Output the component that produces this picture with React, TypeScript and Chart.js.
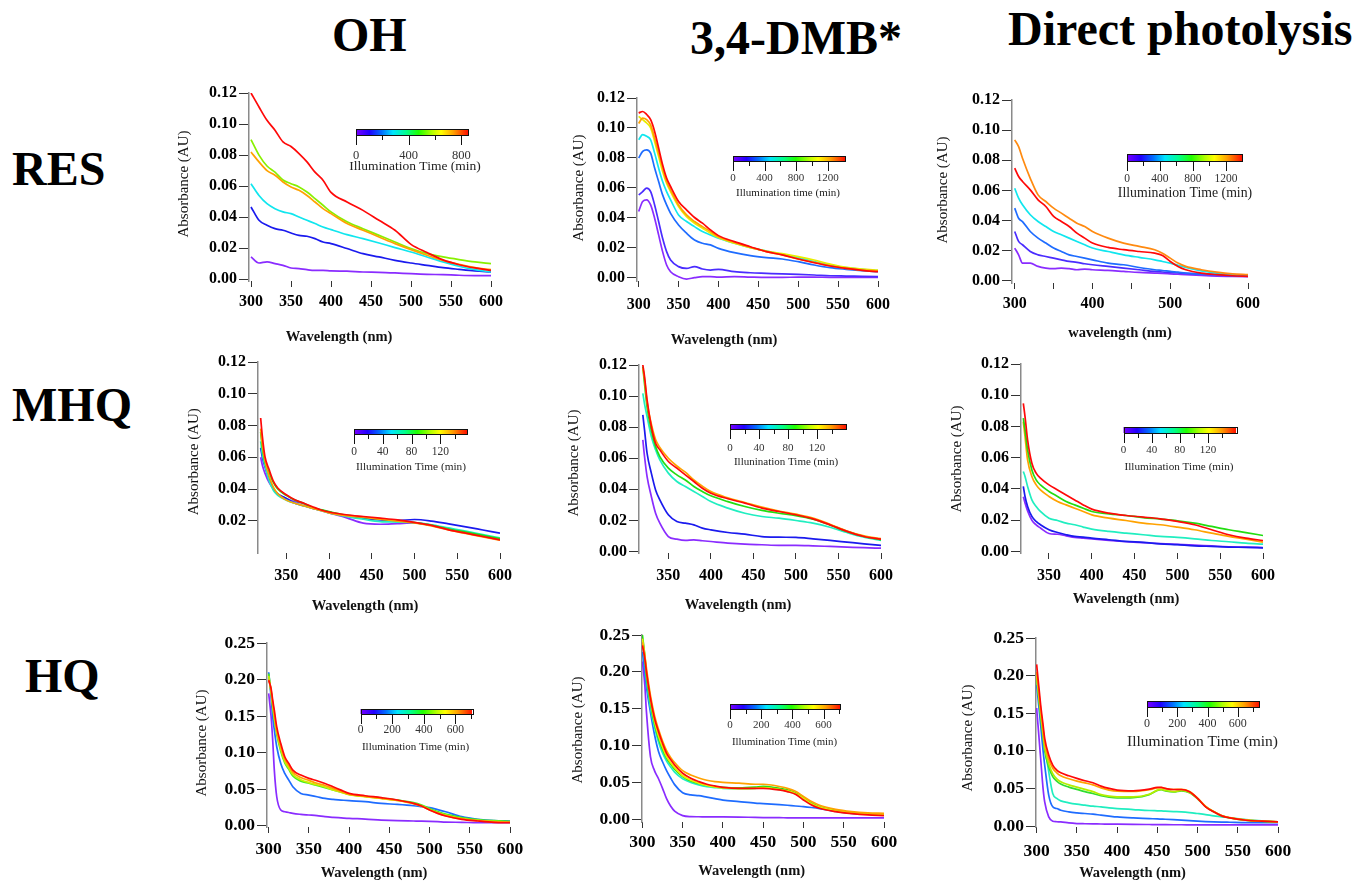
import React, { useEffect, useRef } from 'react';
import { Chart, registerables } from 'chart.js';

Chart.register(...registerables);

const SERIF = '"Liberation Serif", "Times New Roman", Times, serif';

// ---------------- tick labels ----------------
const xTicks300 = [300, 350, 400, 450, 500, 550, 600];
const xLabels300 = [300, 350, 400, 450, 500, 550, 600];
const xLabels300by100 = [300, 400, 500, 600];
const xTicks350 = [350, 400, 450, 500, 550, 600];
const yTicks012 = [0, 0.02, 0.04, 0.06, 0.08, 0.1, 0.12];
const yTicks012NoZero = [0.02, 0.04, 0.06, 0.08, 0.1, 0.12];
const yTicks025 = [0, 0.05, 0.1, 0.15, 0.2, 0.25];

// colour-bar ticks (illumination time, min)
const cbMajor850 = [0, 400, 800];
const cbMinor850 = [200, 600];
const cbMajor1400 = [0, 400, 800, 1200];
const cbMinor1400 = [200, 600, 1000];
const cbMajor160 = [0, 40, 80, 120];
const cbMinor160 = [20, 60, 100, 140];
const cbMajor700 = [0, 200, 400, 600];
const cbMinor700 = [100, 300, 500, 700];

// ---------------- RES / OH ----------------
const resOhWl = [300, 310, 320, 330, 340, 350, 360, 370, 380, 390, 400, 420, 440, 460, 480, 500, 520, 540, 560, 580, 600];
const resOhViolet = [0.0144, 0.0105, 0.0112, 0.0101, 0.009, 0.0073, 0.0069, 0.0062, 0.0058, 0.0058, 0.0054, 0.0052, 0.0047, 0.0045, 0.0041, 0.0036, 0.0032, 0.003, 0.0026, 0.0024, 0.0024];
const resOhBlue = [0.0466, 0.038, 0.0348, 0.0326, 0.0316, 0.0298, 0.0283, 0.0277, 0.0262, 0.024, 0.023, 0.0198, 0.0165, 0.0144, 0.0122, 0.0105, 0.009, 0.0075, 0.0064, 0.0054, 0.0047];
const resOhCyan = [0.0616, 0.054, 0.0487, 0.0455, 0.0434, 0.0423, 0.0401, 0.038, 0.0359, 0.0337, 0.032, 0.0288, 0.0262, 0.0234, 0.0204, 0.0176, 0.0144, 0.0112, 0.0084, 0.0062, 0.0047];
const resOhGreen = [0.09, 0.08, 0.073, 0.069, 0.064, 0.0616, 0.0595, 0.0562, 0.052, 0.0477, 0.0434, 0.037, 0.0326, 0.0283, 0.024, 0.0198, 0.0165, 0.0144, 0.0127, 0.0112, 0.0101];
const resOhOrange = [0.082, 0.0756, 0.07, 0.067, 0.0627, 0.0595, 0.0573, 0.054, 0.0498, 0.0455, 0.0423, 0.0359, 0.0316, 0.0273, 0.023, 0.0191, 0.0155, 0.0122, 0.0097, 0.0075, 0.0062];
const resOhRed = [0.12, 0.111, 0.1024, 0.096, 0.0885, 0.0855, 0.081, 0.0756, 0.069, 0.0638, 0.056, 0.0498, 0.0444, 0.038, 0.0316, 0.0225, 0.0172, 0.0125, 0.0094, 0.0073, 0.0058];

// ---------------- RES / 3,4-DMB* ----------------
const resDmbWl = [300, 305, 310, 315, 320, 325, 330, 335, 340, 350, 360, 370, 380, 390, 400, 420, 440, 460, 480, 500, 520, 540, 560, 580, 600];
const resDmbViolet = [0.0442, 0.0509, 0.052, 0.0486, 0.0397, 0.0286, 0.0174, 0.0085, 0.004, 0.0007, -0.0009, 0, 0.0007, 0.0007, 0.0004, 0.0007, 0.0004, 0.0002, 0.0002, 0.0004, 0.0004, 0.0002, 0.0002, 0.0002, 0.0002];
const resDmbIndigo = [0.0553, 0.0575, 0.0598, 0.0575, 0.0486, 0.0375, 0.0263, 0.0174, 0.0118, 0.0074, 0.0062, 0.0074, 0.0058, 0.0051, 0.0056, 0.004, 0.0033, 0.0029, 0.0025, 0.0022, 0.0018, 0.0013, 0.0011, 0.0009, 0.0007];
const resDmbBlue = [0.0799, 0.0843, 0.0854, 0.0832, 0.0732, 0.0642, 0.0553, 0.0486, 0.043, 0.0352, 0.0297, 0.0252, 0.023, 0.0219, 0.0196, 0.0167, 0.0147, 0.0134, 0.0125, 0.0107, 0.0085, 0.0067, 0.0056, 0.0047, 0.004];
const resDmbCyan = [0.0921, 0.0955, 0.0944, 0.0921, 0.0832, 0.0732, 0.0642, 0.0575, 0.052, 0.0419, 0.0375, 0.0341, 0.0308, 0.0286, 0.0263, 0.023, 0.0201, 0.0178, 0.0156, 0.0134, 0.0107, 0.0085, 0.0067, 0.0056, 0.0047];
const resDmbYellow = [0.1077, 0.1055, 0.1033, 0.1, 0.091, 0.081, 0.0709, 0.0631, 0.0575, 0.0475, 0.0408, 0.0364, 0.033, 0.0297, 0.0268, 0.023, 0.0201, 0.0178, 0.0161, 0.0141, 0.0118, 0.0091, 0.0069, 0.0058, 0.0051];
const resDmbOrange = [0.103, 0.1066, 0.1055, 0.102, 0.0932, 0.0832, 0.0732, 0.0642, 0.0587, 0.0486, 0.0419, 0.0375, 0.0341, 0.0308, 0.0274, 0.0236, 0.0203, 0.0174, 0.0152, 0.0125, 0.0103, 0.008, 0.0062, 0.0051, 0.0045];
const resDmbRed = [0.11, 0.111, 0.109, 0.1055, 0.0977, 0.0866, 0.0754, 0.0665, 0.0609, 0.0509, 0.0453, 0.0402, 0.0364, 0.0319, 0.0281, 0.0241, 0.0207, 0.0174, 0.0152, 0.0125, 0.01, 0.0078, 0.0062, 0.0049, 0.004];

// ---------------- RES / direct photolysis ----------------
const resDirWl = [300, 305, 310, 320, 330, 340, 350, 360, 370, 380, 390, 400, 420, 440, 460, 480, 490, 500, 510, 520, 540, 560, 580, 600];
const resDirViolet = [0.0217, 0.0172, 0.0117, 0.0117, 0.0095, 0.0084, 0.008, 0.0084, 0.008, 0.0073, 0.0077, 0.0073, 0.0069, 0.0062, 0.0055, 0.0051, 0.0049, 0.0046, 0.0043, 0.004, 0.0035, 0.0031, 0.0029, 0.0027];
const resDirIndigo = [0.0327, 0.0261, 0.0239, 0.0194, 0.0172, 0.0161, 0.015, 0.0139, 0.0128, 0.0122, 0.0113, 0.0106, 0.0095, 0.0084, 0.0073, 0.0062, 0.0058, 0.0055, 0.0052, 0.0049, 0.0044, 0.004, 0.0035, 0.0033];
const resDirBlue = [0.0482, 0.0415, 0.0393, 0.0327, 0.0283, 0.025, 0.0217, 0.0194, 0.0172, 0.0161, 0.015, 0.0139, 0.0117, 0.0106, 0.0088, 0.0073, 0.0068, 0.0062, 0.0057, 0.0051, 0.0044, 0.004, 0.0035, 0.0033];
const resDirCyan = [0.0614, 0.0548, 0.0504, 0.0438, 0.0393, 0.036, 0.0327, 0.0305, 0.0283, 0.0261, 0.0239, 0.0217, 0.0194, 0.0172, 0.0155, 0.0139, 0.0128, 0.0117, 0.0103, 0.0088, 0.0066, 0.0051, 0.004, 0.0035];
const resDirOrange = [0.0935, 0.089, 0.0813, 0.068, 0.057, 0.0526, 0.0482, 0.0449, 0.0415, 0.0382, 0.036, 0.0327, 0.0283, 0.025, 0.0228, 0.0206, 0.0183, 0.015, 0.0117, 0.0095, 0.0073, 0.0057, 0.0046, 0.004];
const resDirRed = [0.0747, 0.0692, 0.0659, 0.0603, 0.0537, 0.0493, 0.0427, 0.0393, 0.036, 0.0316, 0.0283, 0.025, 0.0221, 0.0206, 0.0194, 0.0183, 0.0168, 0.0128, 0.0095, 0.0073, 0.0051, 0.004, 0.0033, 0.0029];

// ---------------- MHQ / OH ----------------
const mhqOhWl = [320, 322, 325, 330, 335, 340, 350, 360, 370, 380, 390, 400, 420, 440, 460, 480, 500, 520, 540, 560, 580, 600];
const mhqOhViolet = [0.06, 0.055, 0.05, 0.044, 0.04, 0.037, 0.034, 0.032, 0.031, 0.028, 0.0265, 0.025, 0.022, 0.0185, 0.0178, 0.0182, 0.0186, 0.0172, 0.015, 0.0128, 0.0105, 0.0082];
const mhqOhBlue = [0.066, 0.06, 0.054, 0.046, 0.04, 0.037, 0.034, 0.031, 0.0295, 0.028, 0.0268, 0.0255, 0.023, 0.0215, 0.0205, 0.0202, 0.0208, 0.0198, 0.018, 0.0162, 0.0142, 0.0122];
const mhqOhCyan = [0.07, 0.062, 0.055, 0.045, 0.039, 0.036, 0.033, 0.031, 0.0295, 0.028, 0.0265, 0.025, 0.0228, 0.021, 0.0195, 0.0192, 0.0188, 0.0175, 0.0155, 0.0135, 0.0113, 0.0092];
const mhqOhGreen = [0.076, 0.066, 0.057, 0.05, 0.044, 0.04, 0.036, 0.033, 0.031, 0.0285, 0.027, 0.0258, 0.0235, 0.0222, 0.021, 0.02, 0.0188, 0.0172, 0.0148, 0.0128, 0.0108, 0.0088];
const mhqOhOrange = [0.078, 0.068, 0.058, 0.048, 0.041, 0.037, 0.033, 0.031, 0.0295, 0.028, 0.0265, 0.025, 0.0232, 0.0222, 0.021, 0.0198, 0.0186, 0.0168, 0.0142, 0.012, 0.0098, 0.0078];
const mhqOhRed = [0.0847, 0.0731, 0.0605, 0.0521, 0.0448, 0.0406, 0.0364, 0.0332, 0.0311, 0.029, 0.0269, 0.0255, 0.0238, 0.0227, 0.0217, 0.0206, 0.019, 0.0171, 0.0143, 0.0122, 0.0101, 0.008];

// ---------------- MHQ / 3,4-DMB* ----------------
const mhqDmbWl = [320, 322, 325, 330, 335, 340, 350, 360, 370, 380, 390, 400, 420, 440, 460, 480, 500, 520, 540, 560, 580, 600];
const mhqDmbViolet = [0.0718, 0.0611, 0.0482, 0.0354, 0.0246, 0.0182, 0.0096, 0.0079, 0.0071, 0.0075, 0.0069, 0.0064, 0.0054, 0.0047, 0.0043, 0.0039, 0.0039, 0.0036, 0.0032, 0.0028, 0.0024, 0.0021];
const mhqDmbBlue = [0.0879, 0.0782, 0.0632, 0.0504, 0.0396, 0.0332, 0.0236, 0.0193, 0.0182, 0.0171, 0.015, 0.0139, 0.0122, 0.0111, 0.0096, 0.0092, 0.009, 0.0081, 0.0071, 0.006, 0.0049, 0.0039];
const mhqDmbCyan = [0.1018, 0.095, 0.0868, 0.0739, 0.0654, 0.0589, 0.0504, 0.045, 0.0418, 0.0386, 0.0354, 0.0321, 0.0279, 0.0246, 0.0225, 0.0214, 0.0199, 0.0182, 0.0156, 0.0122, 0.0092, 0.0071];
const mhqDmbGreen = [0.119, 0.108, 0.093, 0.078, 0.0675, 0.061, 0.0536, 0.0493, 0.046, 0.0418, 0.0386, 0.0358, 0.0321, 0.0289, 0.0264, 0.0246, 0.0231, 0.0208, 0.0171, 0.0129, 0.0096, 0.0075];
const mhqDmbOrange = [0.118, 0.111, 0.096, 0.082, 0.072, 0.067, 0.06, 0.055, 0.051, 0.046, 0.042, 0.0385, 0.0345, 0.0315, 0.0285, 0.026, 0.024, 0.0215, 0.0175, 0.0132, 0.01, 0.0082];
const mhqDmbRed = [0.12, 0.1125, 0.0975, 0.0804, 0.0696, 0.0654, 0.0579, 0.0536, 0.0493, 0.045, 0.0407, 0.0375, 0.0339, 0.0311, 0.0279, 0.0257, 0.0236, 0.021, 0.0171, 0.0129, 0.0096, 0.0079];

// ---------------- MHQ / direct photolysis ----------------
const mhqDirWl = [320, 322, 325, 330, 335, 340, 350, 360, 370, 380, 390, 400, 420, 440, 460, 480, 500, 520, 540, 560, 580, 600];
const mhqDirViolet = [0.035, 0.031, 0.026, 0.02, 0.017, 0.015, 0.0115, 0.011, 0.01, 0.009, 0.0085, 0.008, 0.007, 0.0062, 0.0056, 0.005, 0.0045, 0.004, 0.0035, 0.003, 0.0027, 0.0025];
const mhqDirBlue = [0.0416, 0.0352, 0.0288, 0.0224, 0.0192, 0.0171, 0.0139, 0.0121, 0.0107, 0.0096, 0.0092, 0.0085, 0.0075, 0.0064, 0.0058, 0.0049, 0.0043, 0.0036, 0.0032, 0.0028, 0.0026, 0.0023];
const mhqDirCyan = [0.0512, 0.048, 0.0416, 0.033, 0.0288, 0.0256, 0.0213, 0.0198, 0.0181, 0.0171, 0.0156, 0.0143, 0.0128, 0.0117, 0.0107, 0.0096, 0.009, 0.0081, 0.007, 0.0062, 0.0053, 0.0047];
const mhqDirOrange = [0.0831, 0.0735, 0.0586, 0.048, 0.0426, 0.0394, 0.0352, 0.032, 0.0298, 0.0277, 0.0256, 0.0234, 0.0213, 0.0198, 0.0181, 0.0171, 0.0156, 0.0139, 0.0117, 0.0096, 0.0079, 0.006];
const mhqDirGreen = [0.0853, 0.0778, 0.065, 0.0522, 0.0458, 0.0426, 0.0384, 0.0352, 0.032, 0.0298, 0.0277, 0.0256, 0.0241, 0.023, 0.0217, 0.0207, 0.0196, 0.0181, 0.016, 0.0139, 0.0121, 0.0102];
const mhqDirRed = [0.0948, 0.0863, 0.0714, 0.0565, 0.0501, 0.0469, 0.0426, 0.0394, 0.0362, 0.033, 0.0298, 0.0271, 0.0245, 0.023, 0.022, 0.0209, 0.0192, 0.0171, 0.0139, 0.0107, 0.0085, 0.007];

// ---------------- HQ / OH ----------------
const hqOhWl = [300, 303, 305, 307, 310, 315, 320, 325, 330, 340, 350, 360, 370, 380, 390, 400, 420, 440, 460, 480, 490, 500, 510, 520, 540, 560, 580, 600];
const hqOhViolet = [0.181, 0.149, 0.117, 0.076, 0.0396, 0.0214, 0.0191, 0.018, 0.0168, 0.0155, 0.0146, 0.0137, 0.0123, 0.0114, 0.0107, 0.01, 0.0091, 0.0077, 0.0068, 0.0064, 0.0062, 0.0059, 0.0055, 0.005, 0.0046, 0.0041, 0.0041, 0.0041];
const hqOhBlue = [0.21, 0.176, 0.149, 0.131, 0.108, 0.085, 0.0715, 0.0624, 0.0533, 0.0442, 0.0419, 0.0396, 0.0373, 0.036, 0.0351, 0.0342, 0.0328, 0.0305, 0.0291, 0.0273, 0.026, 0.0246, 0.022, 0.0191, 0.0123, 0.0087, 0.0068, 0.0064];
const hqOhGreen = [0.208, 0.182, 0.162, 0.145, 0.125, 0.102, 0.086, 0.077, 0.068, 0.061, 0.058, 0.055, 0.052, 0.049, 0.046, 0.0428, 0.0402, 0.0378, 0.0352, 0.0315, 0.0282, 0.0235, 0.0192, 0.0158, 0.0112, 0.0085, 0.0068, 0.006];
const hqOhYellow = [0.205, 0.183, 0.165, 0.148, 0.128, 0.105, 0.088, 0.079, 0.07, 0.063, 0.059, 0.056, 0.053, 0.049, 0.046, 0.0425, 0.0398, 0.0372, 0.0345, 0.0305, 0.0272, 0.0222, 0.018, 0.0145, 0.0098, 0.0074, 0.0058, 0.005];
const hqOhOrange = [0.2, 0.185, 0.168, 0.152, 0.13, 0.108, 0.091, 0.082, 0.073, 0.066, 0.062, 0.058, 0.055, 0.051, 0.047, 0.043, 0.04, 0.0375, 0.0345, 0.03, 0.0265, 0.0215, 0.0172, 0.0138, 0.0092, 0.0068, 0.0052, 0.0045];
const hqOhRed = [0.199, 0.1876, 0.1717, 0.158, 0.1352, 0.1125, 0.0943, 0.0852, 0.076, 0.0692, 0.0647, 0.0615, 0.0578, 0.0533, 0.0487, 0.0442, 0.041, 0.0383, 0.0351, 0.0305, 0.0269, 0.0214, 0.0168, 0.0132, 0.0087, 0.0064, 0.0046, 0.0041];

// ---------------- HQ / 3,4-DMB* ----------------
const hqDmbWl = [300, 303, 305, 310, 315, 320, 325, 330, 335, 340, 350, 360, 370, 380, 390, 400, 420, 440, 450, 460, 470, 480, 490, 500, 510, 520, 540, 560, 580, 600];
const hqDmbViolet = [0.214, 0.182, 0.146, 0.085, 0.066, 0.055, 0.042, 0.028, 0.018, 0.011, 0.005, 0.0036, 0.0034, 0.0032, 0.0032, 0.0032, 0.003, 0.0025, 0.0023, 0.0022, 0.0021, 0.002, 0.0019, 0.0018, 0.0018, 0.0018, 0.0018, 0.0018, 0.0018, 0.0018];
const hqDmbBlue = [0.227, 0.2, 0.18, 0.145, 0.115, 0.092, 0.078, 0.066, 0.056, 0.047, 0.036, 0.033, 0.032, 0.03, 0.028, 0.026, 0.024, 0.022, 0.0213, 0.0205, 0.0198, 0.019, 0.018, 0.0172, 0.016, 0.0145, 0.0105, 0.0078, 0.0068, 0.0064];
const hqDmbCyan = [0.24, 0.215, 0.19, 0.152, 0.125, 0.105, 0.09, 0.079, 0.071, 0.064, 0.055, 0.05, 0.0465, 0.0442, 0.043, 0.042, 0.0415, 0.042, 0.0425, 0.0418, 0.0402, 0.038, 0.0345, 0.028, 0.021, 0.0165, 0.0115, 0.0086, 0.0068, 0.006];
const hqDmbGreen = [0.25, 0.222, 0.195, 0.158, 0.13, 0.11, 0.095, 0.083, 0.075, 0.068, 0.058, 0.052, 0.0485, 0.0458, 0.0442, 0.0432, 0.0425, 0.0435, 0.0445, 0.0438, 0.042, 0.0398, 0.036, 0.0295, 0.0218, 0.017, 0.012, 0.009, 0.0072, 0.0065];
const hqDmbYellow = [0.245, 0.222, 0.2, 0.162, 0.133, 0.113, 0.098, 0.085, 0.077, 0.07, 0.059, 0.053, 0.049, 0.046, 0.044, 0.0425, 0.0415, 0.042, 0.043, 0.042, 0.0405, 0.0385, 0.035, 0.0285, 0.021, 0.0165, 0.0115, 0.0088, 0.007, 0.0062];
const hqDmbOrange = [0.24, 0.222, 0.205, 0.168, 0.141, 0.122, 0.106, 0.093, 0.084, 0.077, 0.066, 0.06, 0.056, 0.053, 0.051, 0.05, 0.049, 0.0475, 0.0475, 0.0465, 0.0445, 0.042, 0.038, 0.031, 0.024, 0.019, 0.0135, 0.0105, 0.0088, 0.008];
const hqDmbRed = [0.236, 0.218, 0.2, 0.164, 0.137, 0.1189, 0.1031, 0.0895, 0.081, 0.0737, 0.0624, 0.0556, 0.0511, 0.0475, 0.0452, 0.0434, 0.042, 0.042, 0.042, 0.0411, 0.0398, 0.0375, 0.0339, 0.0262, 0.0194, 0.0149, 0.0104, 0.0077, 0.0059, 0.005];

// ---------------- HQ / direct photolysis ----------------
const hqDirWl = [300, 305, 308, 310, 315, 320, 325, 330, 340, 350, 360, 370, 380, 390, 400, 420, 440, 450, 455, 460, 470, 480, 490, 500, 510, 520, 530, 540, 560, 580, 600];
const hqDirViolet = [0.157, 0.09, 0.05, 0.0324, 0.0124, 0.0067, 0.006, 0.0058, 0.0044, 0.0036, 0.0033, 0.0031, 0.003, 0.0028, 0.0027, 0.0025, 0.0023, 0.0022, 0.0022, 0.0021, 0.002, 0.002, 0.0019, 0.0018, 0.0018, 0.0018, 0.0018, 0.0018, 0.0018, 0.0018, 0.0018];
const hqDirBlue = [0.188, 0.1345, 0.1, 0.0813, 0.0413, 0.0258, 0.0235, 0.0213, 0.0191, 0.0178, 0.0169, 0.016, 0.0147, 0.0135, 0.0124, 0.0111, 0.0102, 0.0097, 0.0095, 0.0093, 0.0087, 0.008, 0.0074, 0.0067, 0.0062, 0.0058, 0.0055, 0.0053, 0.0049, 0.0049, 0.0049];
const hqDirCyan = [0.201, 0.152, 0.125, 0.108, 0.0724, 0.0435, 0.0369, 0.0337, 0.0311, 0.0293, 0.028, 0.0266, 0.0258, 0.0244, 0.0235, 0.0222, 0.0209, 0.0205, 0.0203, 0.02, 0.0195, 0.0191, 0.0182, 0.0169, 0.0155, 0.0138, 0.0125, 0.0111, 0.0089, 0.0071, 0.0058];
const hqDirGreen = [0.198, 0.145, 0.118, 0.1, 0.079, 0.066, 0.06, 0.056, 0.052, 0.049, 0.046, 0.0435, 0.0405, 0.0385, 0.0375, 0.038, 0.042, 0.0475, 0.0485, 0.047, 0.0455, 0.047, 0.0445, 0.0365, 0.026, 0.0192, 0.0138, 0.011, 0.008, 0.0066, 0.0056];
const hqDirLime = [0.2, 0.15, 0.122, 0.105, 0.083, 0.07, 0.063, 0.059, 0.055, 0.052, 0.049, 0.046, 0.042, 0.04, 0.039, 0.039, 0.0425, 0.048, 0.049, 0.0475, 0.046, 0.0475, 0.045, 0.037, 0.0262, 0.0195, 0.014, 0.0112, 0.0082, 0.0068, 0.0058];
const hqDirOrange = [0.205, 0.155, 0.128, 0.11, 0.089, 0.077, 0.071, 0.067, 0.063, 0.06, 0.0575, 0.055, 0.051, 0.048, 0.0465, 0.0462, 0.0485, 0.051, 0.0512, 0.05, 0.0488, 0.049, 0.0462, 0.0375, 0.0265, 0.0197, 0.0143, 0.0115, 0.0084, 0.007, 0.006];
const hqDirRed = [0.215, 0.161, 0.1345, 0.1168, 0.0946, 0.0813, 0.0746, 0.071, 0.067, 0.0635, 0.0604, 0.0577, 0.0533, 0.0502, 0.048, 0.0471, 0.0493, 0.0515, 0.0515, 0.0502, 0.0488, 0.0488, 0.0457, 0.0369, 0.0258, 0.0191, 0.0138, 0.0111, 0.008, 0.0067, 0.0058];

// ---------------- colours ----------------
const C = {
  violet: '#8a2cff',
  indigo: '#4a2cff',
  blue: '#1a1aee',
  skyBlue: '#1e6cff',
  cyan: '#10e6ee',
  teal: '#20eec0',
  green: '#22dd10',
  lime: '#88f000',
  yellow: '#e8ee00',
  orange: '#ffa200',
  red: '#ff0808',
};

const RAINBOW: [number, string][] = [
  [0, '#7a00ff'], [0.12, '#2000ff'], [0.23, '#0070ff'], [0.33, '#00e5ff'],
  [0.45, '#00ff8c'], [0.56, '#20ff00'], [0.68, '#b4ff00'], [0.76, '#ffff00'],
  [0.87, '#ffa000'], [1, '#ff1000'],
];

type SeriesDef = { values: number[]; color: string };
type ColorbarDef = {
  left: number; right: number; top: number; bottom: number; max: number;
  major: number[]; minor: number[]; labelY: number; labelSize: number;
  title: string; titleX: number; titleY: number; titleSize: number;
};
type PanelDef = {
  wl: number[]; series: SeriesDef[];
  plot: [number, number, number, number];
  xRange: [number, number]; yRange: [number, number];
  xTicks: number[]; xLabels: number[]; yTicks: number[];
  tickFont: number; xTickPad: number;
  yTitle: [number, number]; xTitle: [number, number]; xTitleText: string;
  colorbar: ColorbarDef;
};

const PANELS: PanelDef[] = [
  {
    wl: resOhWl,
    series: [
      { values: resOhViolet, color: C.violet }, { values: resOhBlue, color: C.blue },
      { values: resOhCyan, color: C.cyan }, { values: resOhGreen, color: C.lime },
      { values: resOhOrange, color: C.orange }, { values: resOhRed, color: C.red },
    ],
    plot: [249, 93, 491, 281], xRange: [297.5, 600], yRange: [-0.0011, 0.12],
    xTicks: xTicks300, xLabels: xLabels300, yTicks: yTicks012, tickFont: 16, xTickPad: 5,
    yTitle: [184, 184], xTitle: [339, 337], xTitleText: 'Wavelength (nm)',
    colorbar: { left: 356, right: 468, top: 129, bottom: 135, max: 850, major: cbMajor850, minor: cbMinor850, labelY: 155.5, labelSize: 12.5, title: 'Illumination Time (min)', titleX: 415, titleY: 166, titleSize: 13.5 },
  },
  {
    wl: resDmbWl,
    series: [
      { values: resDmbViolet, color: C.violet }, { values: resDmbIndigo, color: C.indigo },
      { values: resDmbBlue, color: C.skyBlue }, { values: resDmbCyan, color: C.cyan },
      { values: resDmbYellow, color: C.yellow }, { values: resDmbOrange, color: C.orange },
      { values: resDmbRed, color: C.red },
    ],
    plot: [637, 98, 878, 281], xRange: [297.9, 600], yRange: [-0.0022, 0.12],
    xTicks: xTicks300, xLabels: xLabels300, yTicks: yTicks012, tickFont: 16, xTickPad: 8,
    yTitle: [579.5, 188], xTitle: [724, 340], xTitleText: 'Wavelength (nm)',
    colorbar: { left: 733, right: 845, top: 156, bottom: 161, max: 1420, major: cbMajor1400, minor: cbMinor1400, labelY: 178.3, labelSize: 11, title: 'Illumination time (min)', titleX: 788, titleY: 193.3, titleSize: 11 },
  },
  {
    wl: resDirWl,
    series: [
      { values: resDirViolet, color: C.violet }, { values: resDirIndigo, color: C.indigo },
      { values: resDirBlue, color: C.skyBlue }, { values: resDirCyan, color: C.cyan },
      { values: resDirOrange, color: '#ff8a10' }, { values: resDirRed, color: C.red },
    ],
    plot: [1012, 100, 1248, 283], xRange: [296.5, 600], yRange: [-0.0015, 0.12],
    xTicks: xTicks300, xLabels: xLabels300by100, yTicks: yTicks012, tickFont: 16, xTickPad: 5.5,
    yTitle: [943, 190], xTitle: [1120, 333], xTitleText: 'wavelength (nm)',
    colorbar: { left: 1127, right: 1242, top: 154, bottom: 161, max: 1395, major: cbMajor1400, minor: cbMinor1400, labelY: 179.3, labelSize: 11.5, title: 'Illumination Time (min)', titleX: 1185, titleY: 193.3, titleSize: 13.8 },
  },
  {
    wl: mhqOhWl,
    series: [
      { values: mhqOhViolet, color: C.violet }, { values: mhqOhBlue, color: C.blue },
      { values: mhqOhCyan, color: C.teal }, { values: mhqOhGreen, color: C.green },
      { values: mhqOhOrange, color: C.orange }, { values: mhqOhRed, color: C.red },
    ],
    plot: [258, 362, 500, 553], xRange: [316.9, 600], yRange: [-0.0003, 0.12],
    xTicks: xTicks350, xLabels: xTicks350, yTicks: yTicks012NoZero, tickFont: 16, xTickPad: 7.5,
    yTitle: [194, 461.7], xTitle: [365, 606.7], xTitleText: 'Wavelength (nm)',
    colorbar: { left: 354, right: 467, top: 429, bottom: 434, max: 157, major: cbMajor160, minor: cbMinor160, labelY: 451.7, labelSize: 11.5, title: 'Illumination Time (min)', titleX: 411, titleY: 467.3, titleSize: 11.3 },
  },
  {
    wl: mhqDmbWl,
    series: [
      { values: mhqDmbViolet, color: C.violet }, { values: mhqDmbBlue, color: C.blue },
      { values: mhqDmbCyan, color: C.teal }, { values: mhqDmbGreen, color: C.green },
      { values: mhqDmbOrange, color: C.orange }, { values: mhqDmbRed, color: C.red },
    ],
    plot: [639, 365, 881, 553], xRange: [315.5, 600], yRange: [-0.001, 0.12],
    xTicks: xTicks350, xLabels: xTicks350, yTicks: yTicks012, tickFont: 16, xTickPad: 7.5,
    yTitle: [574, 463], xTitle: [738, 605], xTitleText: 'Wavelength (nm)',
    colorbar: { left: 730, right: 846, top: 424, bottom: 429, max: 160, major: cbMajor160, minor: cbMinor160, labelY: 447.7, labelSize: 11, title: 'Illunination Time (min)', titleX: 786, titleY: 461.7, titleSize: 11 },
  },
  {
    wl: mhqDirWl,
    series: [
      { values: mhqDirViolet, color: C.violet }, { values: mhqDirBlue, color: C.blue },
      { values: mhqDirCyan, color: C.teal }, { values: mhqDirOrange, color: C.orange },
      { values: mhqDirGreen, color: C.green }, { values: mhqDirRed, color: C.red },
    ],
    plot: [1021, 364, 1263, 553], xRange: [317.3, 600], yRange: [-0.001, 0.12],
    xTicks: xTicks350, xLabels: xTicks350, yTicks: yTicks012, tickFont: 16, xTickPad: 7.5,
    yTitle: [957.5, 459], xTitle: [1126, 599], xTitleText: 'Wavelength (nm)',
    colorbar: { left: 1123.5, right: 1236, top: 427, bottom: 433, max: 160, major: cbMajor160, minor: cbMinor160, labelY: 450, labelSize: 11, title: 'Illumination Time (min)', titleX: 1179, titleY: 466.7, titleSize: 11.2 },
  },
  {
    wl: hqOhWl,
    series: [
      { values: hqOhViolet, color: C.violet }, { values: hqOhBlue, color: C.skyBlue },
      { values: hqOhGreen, color: '#40ee20' }, { values: hqOhYellow, color: '#cdee00' },
      { values: hqOhOrange, color: C.orange }, { values: hqOhRed, color: C.red },
    ],
    plot: [267, 643, 510, 827], xRange: [297.9, 600], yRange: [-0.0018, 0.25],
    xTicks: xTicks300, xLabels: xLabels300, yTicks: yTicks025, tickFont: 17.5, xTickPad: 6,
    yTitle: [201.7, 743], xTitle: [374, 873], xTitleText: 'Wavelength (nm)',
    colorbar: { left: 360.5, right: 472, top: 709, bottom: 714, max: 705, major: cbMajor700, minor: cbMinor700, labelY: 730, labelSize: 11.5, title: 'Illumination Time (min)', titleX: 415.5, titleY: 746.7, titleSize: 11 },
  },
  {
    wl: hqDmbWl,
    series: [
      { values: hqDmbViolet, color: C.violet }, { values: hqDmbBlue, color: C.skyBlue },
      { values: hqDmbCyan, color: C.teal }, { values: hqDmbGreen, color: C.green },
      { values: hqDmbYellow, color: C.yellow }, { values: hqDmbOrange, color: C.orange },
      { values: hqDmbRed, color: C.red },
    ],
    plot: [642, 635, 884, 822], xRange: [299.5, 600], yRange: [-0.0037, 0.25],
    xTicks: xTicks300, xLabels: xLabels300, yTicks: yTicks025, tickFont: 17.5, xTickPad: 4,
    yTitle: [578, 730], xTitle: [751.7, 871], xTitleText: 'Wavelength (nm)',
    colorbar: { left: 730, right: 840, top: 704, bottom: 709, max: 705, major: cbMajor700, minor: cbMinor700, labelY: 725, labelSize: 11, title: 'Illumination Time (min)', titleX: 784.5, titleY: 741.7, titleSize: 10.8 },
  },
  {
    wl: hqDirWl,
    series: [
      { values: hqDirViolet, color: C.violet }, { values: hqDirBlue, color: C.skyBlue },
      { values: hqDirCyan, color: C.teal }, { values: hqDirGreen, color: '#30dd30' },
      { values: hqDirLime, color: '#b4ee00' }, { values: hqDirOrange, color: C.orange },
      { values: hqDirRed, color: C.red },
    ],
    plot: [1036, 638, 1278, 827], xRange: [299.2, 600], yRange: [-0.001, 0.25],
    xTicks: xTicks300, xLabels: xLabels300, yTicks: yTicks025, tickFont: 17.5, xTickPad: 8,
    yTitle: [968, 738], xTitle: [1132.5, 873], xTitleText: 'Wavelength (nm)',
    colorbar: { left: 1147, right: 1259, top: 701, bottom: 707, max: 740, major: cbMajor700, minor: cbMinor700, labelY: 724, labelSize: 12, title: 'Illumination Time (min)', titleX: 1202.5, titleY: 741.7, titleSize: 15.5 },
  },
];

const HEADINGS = [
  { text: 'OH', x: 332, baseline: 51 },
  { text: '3,4-DMB*', x: 690, baseline: 54 },
  { text: 'Direct photolysis', x: 1008, baseline: 45 },
  { text: 'RES', x: 12, baseline: 185 },
  { text: 'MHQ', x: 12, baseline: 421 },
  { text: 'HQ', x: 25, baseline: 692 },
];

function boxOf(p: PanelDef) {
  const [L, T, R, B] = p.plot;
  const left = Math.floor(p.yTitle[0] - 14);
  const top = Math.floor(T - 14);
  const right = Math.ceil(R + 45);
  const bottom = Math.min(885, Math.ceil(p.xTitle[1] + 13));
  return { left, top, width: right - left, height: bottom - top, yw: L - left, pt: T - top, pr: right - R, xh: bottom - B };
}

function Panel({ p }: { p: PanelDef }) {
  const ref = useRef<HTMLCanvasElement>(null);
  const box = boxOf(p);
  useEffect(() => {
    const canvas = ref.current;
    if (!canvas) return;
    const ox = box.left;
    const oy = box.top;
    const n = p.series.length;
    const decor = {
      id: 'panelDecor',
      afterDraw(chart: any) {
        const ctx: CanvasRenderingContext2D = chart.ctx;
        ctx.save();
        ctx.fillStyle = '#111';
        ctx.textAlign = 'center';
        ctx.textBaseline = 'middle';
        ctx.font = `15px ${SERIF}`;
        ctx.save();
        ctx.translate(p.yTitle[0] - ox, p.yTitle[1] - oy);
        ctx.rotate(-Math.PI / 2);
        ctx.fillText('Absorbance (AU)', 0, 0);
        ctx.restore();
        ctx.font = `bold 14.5px ${SERIF}`;
        ctx.fillText(p.xTitleText, p.xTitle[0] - ox, p.xTitle[1] - oy);
        const cb = p.colorbar;
        const x0 = cb.left - ox, x1 = cb.right - ox, y0 = cb.top - oy, y1 = cb.bottom - oy;
        const g = ctx.createLinearGradient(x0, 0, x1, 0);
        RAINBOW.forEach(([s, c]) => g.addColorStop(s, c));
        ctx.fillStyle = g;
        ctx.fillRect(x0, y0, x1 - x0, y1 - y0);
        ctx.strokeStyle = '#111';
        ctx.lineWidth = 1;
        ctx.strokeRect(Math.round(x0) + 0.5, Math.round(y0) + 0.5, Math.round(x1 - x0), Math.round(y1 - y0));
        const px = (v: number) => x0 + (v / cb.max) * (x1 - x0);
        ctx.beginPath();
        cb.major.forEach((v) => { const x = Math.round(px(v)) + 0.5; ctx.moveTo(x, y1); ctx.lineTo(x, y1 + 10); });
        cb.minor.forEach((v) => { const x = Math.round(px(v)) + 0.5; ctx.moveTo(x, y1); ctx.lineTo(x, y1 + 5); });
        ctx.stroke();
        ctx.fillStyle = '#333';
        ctx.font = `${cb.labelSize}px ${SERIF}`;
        cb.major.forEach((v) => ctx.fillText(String(v), px(v), cb.labelY - oy));
        ctx.fillStyle = '#222';
        ctx.font = `${cb.titleSize}px ${SERIF}`;
        ctx.fillText(cb.title, cb.titleX - ox, cb.titleY - oy);
        ctx.restore();
      },
    };
    const chart = new Chart(canvas, {
      type: 'line',
      data: {
        datasets: p.series.map((s, i) => ({
          data: p.wl.map((x, j) => ({ x, y: s.values[j] })),
          borderColor: s.color,
          backgroundColor: s.color,
          borderWidth: 1.7,
          pointRadius: 0,
          fill: false,
          cubicInterpolationMode: 'monotone' as const,
          order: n - i,
        })),
      },
      options: {
        animation: false,
        responsive: false,
        events: [],
        layout: { padding: { left: 0, top: box.pt, right: box.pr, bottom: 0 } },
        plugins: { legend: { display: false }, tooltip: { enabled: false } },
        scales: {
          x: {
            type: 'linear',
            min: p.xRange[0],
            max: p.xRange[1],
            afterBuildTicks: (axis: any) => { axis.ticks = p.xTicks.map((v) => ({ value: v })); },
            afterFit: (axis: any) => { axis.height = box.xh; },
            grid: { display: true, drawOnChartArea: false, drawTicks: true, tickLength: 6, color: '#333' },
            border: { display: false },
            ticks: {
              autoSkip: false,
              maxRotation: 0,
              minRotation: 0,
              padding: p.xTickPad,
              color: '#000',
              font: { family: SERIF, size: p.tickFont, weight: 'bold' },
              callback: (v: any) => (p.xLabels.includes(Number(v)) ? String(v) : ''),
            },
          },
          y: {
            type: 'linear',
            min: p.yRange[0],
            max: p.yRange[1],
            afterBuildTicks: (axis: any) => { axis.ticks = p.yTicks.map((v) => ({ value: v })); },
            afterFit: (axis: any) => { axis.width = box.yw; },
            grid: { display: true, drawOnChartArea: false, drawTicks: true, tickLength: 10, color: '#333' },
            border: { display: true, color: '#8a8a8a', width: 1.5 },
            ticks: {
              padding: 2,
              color: '#000',
              font: { family: SERIF, size: p.tickFont, weight: 'bold' },
              callback: (v: any) => Number(v).toFixed(2),
            },
          },
        },
      },
      plugins: [decor],
    } as any);
    return () => chart.destroy();
  }, []);
  return (
    <canvas
      ref={ref}
      width={box.width}
      height={box.height}
      style={{ position: 'absolute', left: box.left, top: box.top, width: box.width, height: box.height }}
    />
  );
}

export default function App() {
  return (
    <div style={{ position: 'absolute', left: 0, top: 0, width: 1356, height: 885, overflow: 'hidden', background: '#fff' }}>
      {HEADINGS.map((h) => (
        <div
          key={h.text}
          style={{
            position: 'absolute', left: h.x, top: h.baseline - 40, fontFamily: SERIF, fontWeight: 'bold',
            fontSize: 48, lineHeight: '48px', whiteSpace: 'nowrap', color: '#000',
          }}
        >
          {h.text}
        </div>
      ))}
      {PANELS.map((p, i) => (
        <Panel key={i} p={p} />
      ))}
    </div>
  );
}
